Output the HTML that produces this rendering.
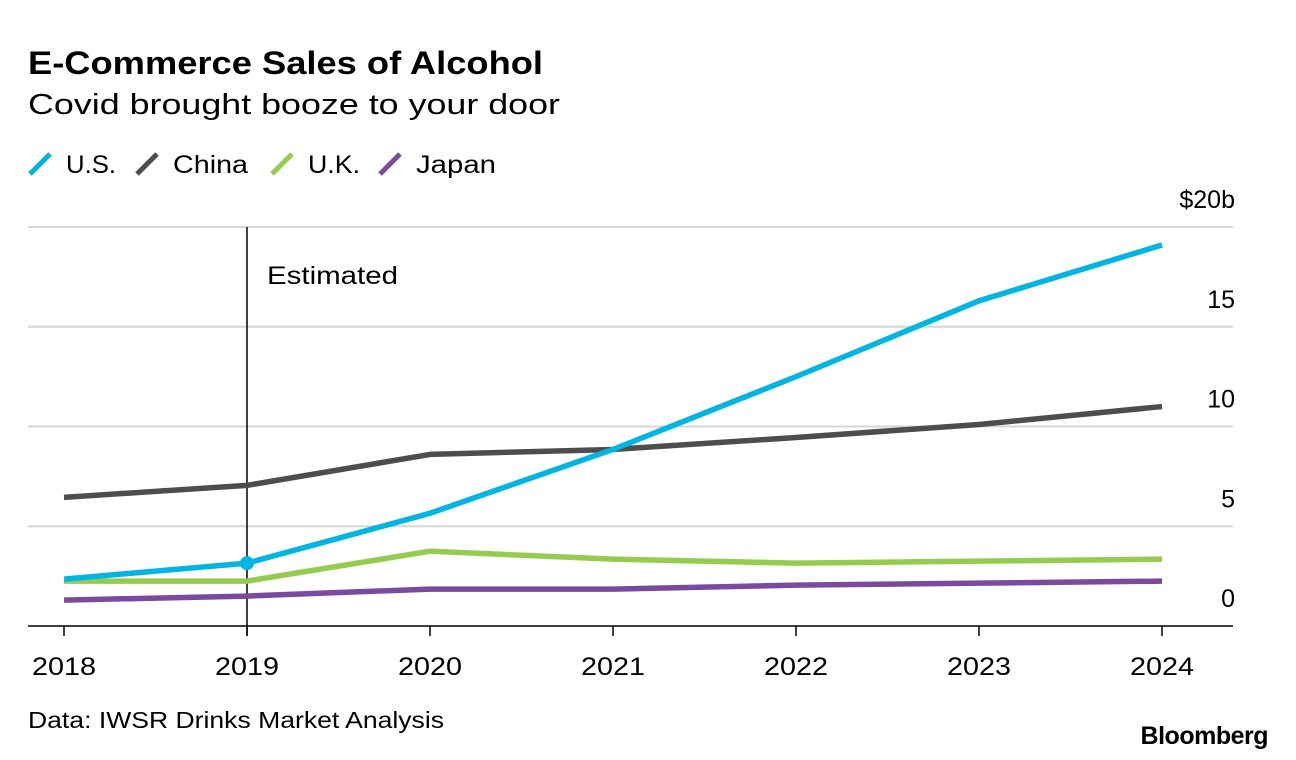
<!DOCTYPE html>
<html><head><meta charset="utf-8"><style>
body{margin:0;background:#fff;font-family:"Liberation Sans",Arial,sans-serif;}
#wrap{position:relative;width:1296px;height:760px;overflow:hidden;}
</style></head><body>
<div id="wrap">
<svg id="chart" width="1296" height="760" xmlns="http://www.w3.org/2000/svg">
<text x="28" y="74" font-size="32" font-weight="bold" fill="#000" textLength="515" lengthAdjust="spacingAndGlyphs">E-Commerce Sales of Alcohol</text>
<text x="28" y="114" font-size="29" fill="#000" textLength="532" lengthAdjust="spacingAndGlyphs">Covid brought booze to your door</text>
<g id="legend"></g>
<g id="grid"></g>
<g id="yaxis"></g>
<g id="xaxis"></g>
<g id="series"></g>
<text x="28" y="728" font-size="23" fill="#000" textLength="416" lengthAdjust="spacingAndGlyphs">Data: IWSR Drinks Market Analysis</text>
<text x="1268" y="744" font-size="25" font-weight="bold" text-anchor="end" fill="#000" letter-spacing="-0.5">Bloomberg</text>
</svg>
</div>
<script>
const years = [2018, 2019, 2020, 2021, 2022, 2023, 2024];
const usValues = [2.35, 3.15, 5.65, 8.85, 12.5, 16.3, 19.1];
const chinaValues = [6.45, 7.05, 8.6, 8.85, 9.45, 10.1, 11.0];
const ukValues = [2.25, 2.25, 3.75, 3.35, 3.15, 3.25, 3.35];
const japanValues = [1.3, 1.5, 1.85, 1.85, 2.05, 2.15, 2.25];
const yTicks = [0, 5, 10, 15, 20];
const yTickLabels = ["0", "5", "10", "15", "$20b"];
const seriesNames = ["U.S.", "China", "U.K.", "Japan"];

const NS = "http://www.w3.org/2000/svg";
const x0 = 64, x1 = 1162, yBase = 626, yTop = 227;
function xScale(yr){ return x0 + (yr - years[0]) / (years[years.length-1] - years[0]) * (x1 - x0); }
function yScale(v){ return yBase - v / 20 * (yBase - yTop); }
function mk(tag, attrs, parent){ const e = document.createElementNS(NS, tag); for (const k in attrs) e.setAttribute(k, attrs[k]); parent.appendChild(e); return e; }

const grid = document.getElementById('grid'), yaxis = document.getElementById('yaxis'), xaxis = document.getElementById('xaxis'), series = document.getElementById('series'), legend = document.getElementById('legend');

yTicks.forEach((t, i) => {
  const y = yScale(t);
  const ln = mk('line', {x1: 28, x2: 1233, y1: y, y2: y, stroke: t === 0 ? '#000' : '#d6d6d6', 'stroke-width': t === 0 ? 1.5 : 2}, grid);
  
  
  const tx = mk('text', {x: 1235, y: y - 19, 'font-size': 25, 'text-anchor': 'end', fill: '#000'}, yaxis);
  tx.textContent = yTickLabels[i];
  
  
});

years.forEach(yr => {
  const x = xScale(yr);
  const tk = mk('line', {x1: x, x2: x, y1: yBase, y2: yBase + 10, stroke: '#000', 'stroke-width': 1.5}, xaxis);
  
  
  const tx = mk('text', {x: x, y: 675, 'font-size': 25, 'text-anchor': 'middle', fill: '#000', textLength: 64, lengthAdjust: 'spacingAndGlyphs'}, xaxis);
  tx.textContent = yr;
  
  
});

const est = mk('line', {x1: xScale(2019), x2: xScale(2019), y1: yTop, y2: yBase + 10, stroke: '#000', 'stroke-width': 1.5}, series);


const estT = mk('text', {x: xScale(2019) + 20, y: 284, 'font-size': 25, fill: '#000', textLength: 131, lengthAdjust: 'spacingAndGlyphs'}, series);
estT.textContent = 'Estimated';



const data = [usValues, chinaValues, ukValues, japanValues];
const colors = ['#00b5e2', '#4d4d4d', '#95cc4f', '#7a4aa0'];
const names = ['line-us', 'line-china', 'line-uk', 'line-japan'];
for (let s = 3; s >= 0; s--) {
  const pts = data[s].map((v, i) => xScale(years[i]) + ',' + yScale(v)).join(' ');
  const pl = mk('polyline', {points: pts, fill: 'none', stroke: colors[s], 'stroke-width': 5.5, 'stroke-linejoin': 'round'}, series);
  
  
}
const dot = mk('circle', {cx: xScale(2019), cy: yScale(usValues[1]), r: 7, fill: colors[0]}, series);



const legX = [30, 137, 272, 380];
const legW = [50, 75, 52, 80];
seriesNames.forEach((n, i) => {
  const x = legX[i];
  const sw = mk('line', {x1: x, y1: 174, x2: x + 20, y2: 154, stroke: colors[i], 'stroke-width': 5}, legend);
  
  
  const tx = mk('text', {x: x + 36, y: 173, 'font-size': 25, fill: '#000', textLength: legW[i], lengthAdjust: 'spacingAndGlyphs'}, legend);
  tx.textContent = n;
  
  
});
</script>
</body></html>
